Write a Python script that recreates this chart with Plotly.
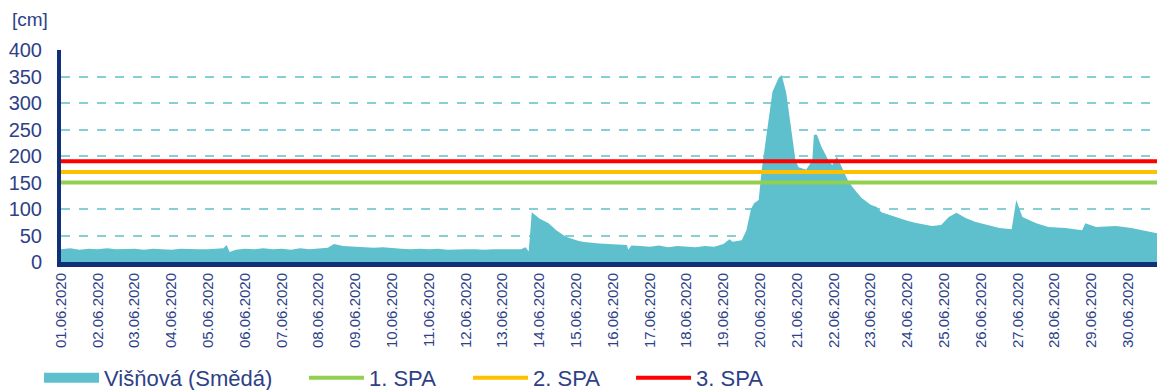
import pandas as pd
import plotly.graph_objects as go

# water level at Višňová (Smědá), June 2020 - hours since 01.06.2020 00:00
hours = [0, 6, 12, 18, 24, 30, 36, 42, 48, 54, 60, 66, 72, 78, 84, 90,
         96, 102, 106, 108, 110, 114, 120, 126, 132, 138, 144, 150, 156, 162,
         168, 174, 178, 184, 192, 198, 204, 210, 216, 222, 228, 234,
         240, 246, 252, 258, 264, 270, 276, 282, 288, 294, 300, 303, 305, 306, 307,
         312, 318, 323, 329, 336, 340, 351, 360, 369, 370, 372, 378,
         384, 390, 396, 402, 408, 414, 420, 426, 432, 436, 438, 444, 447, 450, 452, 455,
         457, 460, 464, 468, 470, 473, 476, 479,
         481, 486, 490, 491, 493, 496, 501, 503,
         506, 509, 513, 516, 522, 528, 532, 535, 546,
         552, 557, 568, 574, 579, 584, 590, 596,
         601, 606, 612, 620, 623, 627, 636, 644,
         655, 666, 668, 675, 688, 698, 710, 719, 720]
level = [24, 26, 23, 25, 24, 26, 24, 25, 25, 23, 25, 24, 23, 25, 24, 24,
         24, 25, 26, 32, 19, 23, 25, 24, 26, 24, 25, 23, 26, 24,
         25, 27, 34, 30, 29, 28, 27, 28, 26, 25, 24, 25,
         24, 25, 23, 24, 24, 24, 23, 24, 24, 23, 24, 28, 20, 55, 94,
         82, 73, 60, 48, 41, 38, 35, 33, 32, 23, 31, 30,
         29, 31, 28, 30, 29, 28, 30, 29, 34, 43, 38, 41, 60, 100, 111, 117,
         174, 234, 321, 347, 353, 319, 255, 192,
         179, 174, 192, 240, 240, 217, 189, 183,
         199, 180, 155, 142, 121, 108, 104, 94, 83,
         78, 74, 68, 70, 85, 93, 83, 76,
         72, 68, 64, 62, 117, 85, 73, 66,
         64, 60, 73, 66, 68, 64, 57, 51, 51]

spa_names = ["1. SPA", "2. SPA", "3. SPA"]
spa_levels = [150, 170, 190]
spa_colors = ["#92d050", "#ffc000", "#ff0000"]

start = pd.Timestamp("2020-06-01")
end = pd.Timestamp("2020-07-01")
t = start + pd.to_timedelta(hours, unit="h")
days = pd.date_range(start, "2020-06-30", freq="D")

navy = "#12307a"
txt = "#2e4187"
fill_col = "#5ec0cc"
font = "Arial, Liberation Sans, sans-serif"

fig = go.Figure()

fig.add_trace(go.Scatter(x=t, y=level, mode="lines", fill="tozeroy",
                         line=dict(width=0, color=fill_col), fillcolor=fill_col,
                         showlegend=False, hoverinfo="x+y"))
# legend-only swatch for the area
fig.add_trace(go.Scatter(x=[None], y=[None], mode="lines", name="Višňová (Smědá)",
                         line=dict(width=12, color=fill_col), legend="legend"))

legend_ids = ["legend2", "legend3", "legend4"]
for name, val, col, lg in zip(spa_names, spa_levels, spa_colors, legend_ids):
    fig.add_trace(go.Scatter(x=[start, end], y=[val, val], mode="lines", name=name,
                             line=dict(width=4, color=col), legend=lg))

# page body keeps an 8px margin, so the figure is 8px smaller than the window
leg = dict(orientation="h", xref="container", yref="container",
           yanchor="middle", y=0.0314, xanchor="left",
           font=dict(family=font, size=22, color=txt), itemwidth=55,
           bgcolor="rgba(0,0,0,0)")
fig.update_layout(
    width=1157, height=382,
    margin=dict(l=53, r=0, t=42, b=128, autoexpand=False),
    plot_bgcolor="white", paper_bgcolor="white",
    legend=dict(leg, x=0.0268),
    legend2=dict(leg, x=0.2558),
    legend3=dict(leg, x=0.3976),
    legend4=dict(leg, x=0.5385),
    xaxis=dict(range=[start, end], tickvals=days, ticktext=[d.strftime("%d.%m.%Y") for d in days],
               tickangle=-90, tickfont=dict(family=font, size=15, color=txt),
               showgrid=False, showline=True, linewidth=5, linecolor=navy,
               ticks="", zeroline=False, automargin=False),
    yaxis=dict(range=[0, 400], tickvals=[0, 50, 100, 150, 200, 250, 300, 350, 400],
               tickfont=dict(family=font, size=20, color=txt), ticklabelstandoff=11,
               showgrid=True, gridcolor="#86cfd6", griddash="dash", gridwidth=1.5,
               showline=True, linewidth=4, linecolor=navy, zeroline=False, ticks="",
               automargin=False),
    annotations=[dict(text="[cm]", xref="paper", yref="paper", x=-0.0462, y=1.142,
                      xanchor="left", yanchor="middle", showarrow=False,
                      font=dict(family=font, size=19, color=txt))],
)

fig.write_html("out.html")
